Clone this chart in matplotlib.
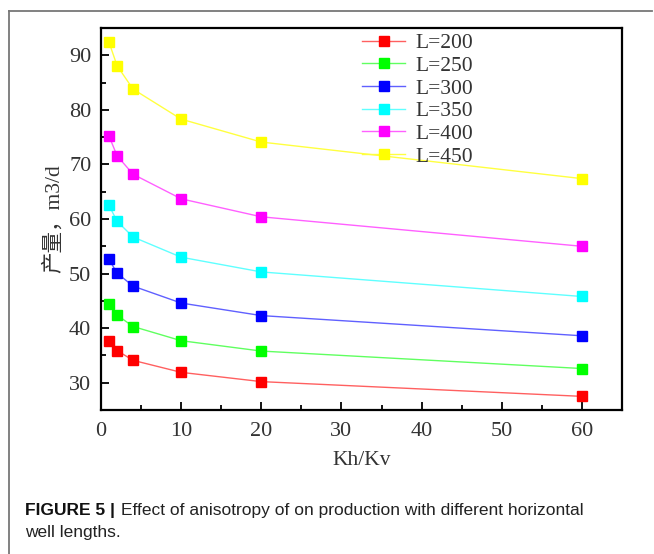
import matplotlib
matplotlib.use("Agg")
import matplotlib.pyplot as plt
from matplotlib.lines import Line2D

kh_kv = [1, 2, 4, 10, 20, 60]
labels = ["L=200", "L=250", "L=300", "L=350", "L=400", "L=450"]
L200 = [37.7, 35.9, 34.1, 31.9, 30.2, 27.5]
L250 = [44.5, 42.4, 40.3, 37.7, 35.8, 32.6]
L300 = [52.6, 50.1, 47.7, 44.6, 42.3, 38.6]
L350 = [62.5, 59.6, 56.7, 53.0, 50.3, 45.8]
L400 = [75.2, 71.6, 68.2, 63.7, 60.4, 55.0]
L450 = [92.4, 88.1, 83.8, 78.3, 74.1, 67.4]
series = [L200, L250, L300, L350, L400, L450]
marker_colors = ["#ff0000", "#00ff00", "#0000ff", "#00ffff", "#ff00ff", "#ffff00"]
line_colors = ["#ff6060", "#60ff60", "#6060ff", "#60ffff", "#ff60ff", "#ffff40"]

serif = ["Liberation Serif", "Noto Sans CJK SC", "DejaVu Serif"]

fig = plt.figure(figsize=(6.54, 5.54), dpi=100)
W, H = 654, 554
ax = fig.add_axes([101 / W, 1 - 410 / H, (622 - 101) / W, (410 - 28) / H])

for ys, mc, lc, lab in zip(series, marker_colors, line_colors, labels):
    ax.plot(kh_kv, ys, color=lc, lw=1.0, marker="s", ms=7.5,
            markerfacecolor=mc, markeredgecolor=mc, label=lab)

ax.set_xlim(0, 65)
ax.set_ylim(25, 95)
ax.set_xticks([0, 10, 20, 30, 40, 50, 60])
ax.set_xticks([5, 15, 25, 35, 45, 55], minor=True)
ax.set_yticks([30, 40, 50, 60, 70, 80, 90])
ax.set_yticks([35, 45, 55, 65, 75, 85], minor=True)
ax.tick_params(which="major", direction="in", length=6, width=1.3, labelsize=16,
               top=False, right=False)
ax.tick_params(axis="x", which="major", pad=9)
ax.tick_params(axis="y", which="major", pad=7)
ax.tick_params(which="minor", direction="in", length=3.5, width=1.3, top=False, right=False)
for lbl in ax.get_xticklabels() + ax.get_yticklabels():
    lbl.set_fontfamily(serif)
    lbl.set_color("#333333")
for s in ax.spines.values():
    s.set_linewidth(1.6)

ax.set_xlabel("Kh/Kv", fontsize=15.5, family=serif, color="#333333", labelpad=7)
ax.set_ylabel("产量，m3/d", fontsize=15.5, family=serif, color="#333333", labelpad=4)

handles = [Line2D([0], [0], color=lc, lw=1.0, marker="s", ms=7.5,
                  markerfacecolor=mc, markeredgecolor=mc)
           for mc, lc in zip(marker_colors, line_colors)]
leg = ax.legend(handles, labels, loc="upper left", bbox_to_anchor=(0.477, 1.02),
                frameon=False, prop={"family": serif, "size": 15.5},
                handlelength=2.0, labelspacing=0.12, handletextpad=0.45, borderaxespad=0.2)
for t in leg.get_texts():
    t.set_color("#333333")

# outer frame lines
fig.add_artist(Line2D([9 / W, 652 / W], [1 - 11 / H, 1 - 11 / H], color="#777777", lw=1.3))
fig.add_artist(Line2D([9 / W, 9 / W], [1 - 11 / H, 0], color="#777777", lw=1.3))

fig.text(25 / W, 1 - 510 / H, "FIGURE 5 |", fontsize=12.5, fontweight="bold",
         family="Liberation Sans", va="center", ha="left", color="#111111")
fig.text(121 / W, 1 - 510 / H, "Effect of anisotropy of on production with different horizontal",
         fontsize=12.5, family="Liberation Sans", va="center", ha="left", color="#222222")
fig.text(25 / W, 1 - 533 / H, "well lengths.", fontsize=12.5, family="Liberation Sans",
         va="center", ha="left", color="#222222")

fig.savefig("out.png", dpi=100)
